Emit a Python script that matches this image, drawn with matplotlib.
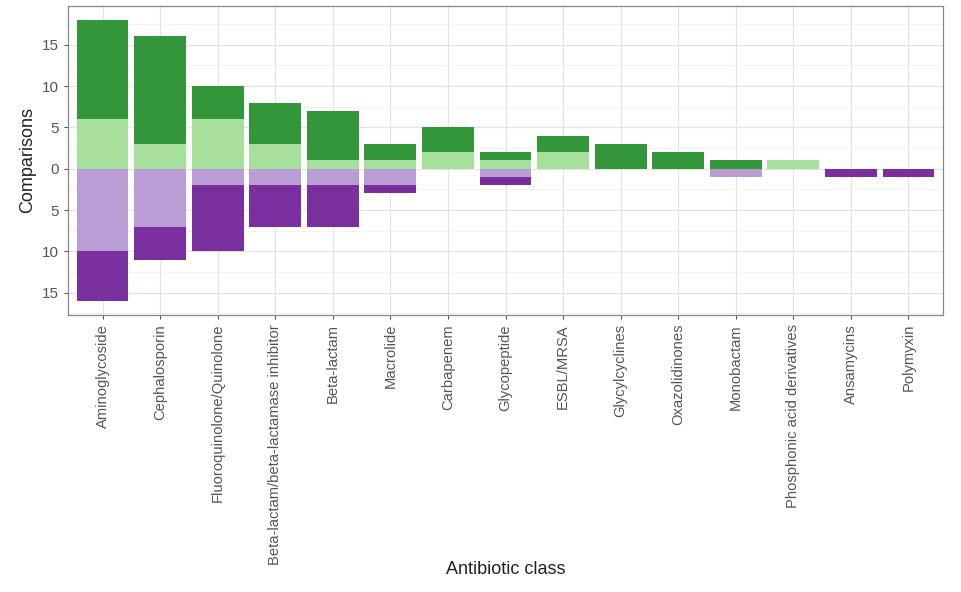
import numpy as np
import matplotlib.pyplot as plt
from matplotlib.ticker import MultipleLocator, FuncFormatter

plt.rcParams['font.family'] = ['Liberation Sans', 'DejaVu Sans']

classes = ['Aminoglycoside', 'Cephalosporin', 'Fluoroquinolone/Quinolone',
           'Beta-lactam/beta-lactamase inhibitor', 'Beta-lactam', 'Macrolide',
           'Carbapenem', 'Glycopeptide', 'ESBL/MRSA', 'Glycylcyclines',
           'Oxazolidinones', 'Monobactam', 'Phosphonic acid derivatives',
           'Ansamycins', 'Polymyxin']
green_light = [6, 3, 6, 3, 1, 1, 2, 1, 2, 0, 0, 0, 1, 0, 0]
green_dark = [12, 13, 4, 5, 6, 2, 3, 1, 2, 3, 2, 1, 0, 0, 0]
purple_light = [10, 7, 2, 2, 2, 2, 0, 1, 0, 0, 0, 1, 0, 0, 0]
purple_dark = [6, 4, 8, 5, 5, 1, 0, 1, 0, 0, 0, 0, 0, 1, 1]

c_gl = '#a6e09c'
c_gd = '#33963a'
c_pl = '#bb9dd5'
c_pd = '#7a2f9e'

gl = np.array(green_light)
gd = np.array(green_dark)
pl = np.array(purple_light)
pd_ = np.array(purple_dark)
x = np.arange(1, len(classes) + 1)

fig = plt.figure(figsize=(9.61, 5.92), dpi=100)
ax = fig.add_axes([0.0708, 0.468, 0.9105, 0.522])

w = 0.9
ax.bar(x, gl, w, color=c_gl, zorder=3)
ax.bar(x, gd, w, bottom=gl, color=c_gd, zorder=3)
ax.bar(x, -pl, w, color=c_pl, zorder=3)
ax.bar(x, -pd_, w, bottom=-pl, color=c_pd, zorder=3)

ax.set_xlim(0.4, len(classes) + 0.6)
ax.set_ylim(-17.7, 19.7)
ax.yaxis.set_major_locator(MultipleLocator(5))
ax.yaxis.set_minor_locator(MultipleLocator(2.5))
ax.yaxis.set_major_formatter(FuncFormatter(lambda v, p: '%d' % abs(v)))
ax.set_xticks(x)
ax.set_xticklabels(classes, rotation=90, fontsize=10.6, color='#555555')
ax.tick_params(axis='y', labelsize=11, labelcolor='#555555', color='#555555', length=3)
ax.tick_params(axis='x', color='#555555', length=3)
ax.tick_params(which='minor', length=0)

ax.grid(which='major', color='#e3e3e3', linewidth=0.9, zorder=0)
ax.grid(which='minor', axis='y', color='#f0f0f0', linewidth=0.6, zorder=0)
ax.set_axisbelow(True)
for s in ax.spines.values():
    s.set_color('#888888')
    s.set_linewidth(0.9)

ax.set_ylabel('Comparisons', fontsize=13, color='#222222', labelpad=4)
ax.set_xlabel('Antibiotic class', fontsize=13, color='#222222', va='center')
ax.xaxis.set_label_coords(0.5, -0.825)

fig.savefig('out.png', dpi=100)
